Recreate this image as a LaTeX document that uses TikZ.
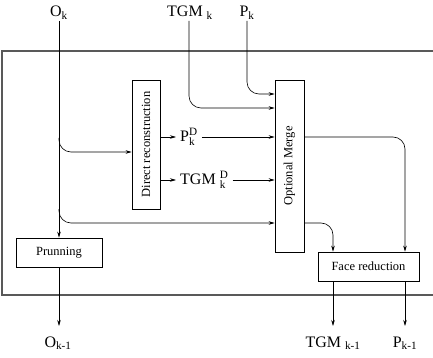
\documentclass[tikz,border=0pt]{standalone}
\usepackage{amsmath}
\usepackage{graphicx}
\usepackage{fontspec}
\setmainfont{Liberation Serif}
\usetikzlibrary{arrows.meta}

\begin{document}
\begin{tikzpicture}[x=1pt, y=-1pt,
    box/.style={draw, line width=0.7pt, inner sep=0pt, font=\fontsize{12.5}{14}\selectfont},
    flow/.style={-{Stealth[length=6pt, width=3.5pt]}, line width=0.6pt},
    roundflow/.style={flow, rounded corners=12pt},
    lab/.style={font=\fontsize{16}{18}\selectfont, inner sep=1pt, anchor=base},
    mid/.style={font=\fontsize{16}{18}\selectfont, inner sep=4pt, anchor=west}]
    \useasboundingbox (0,0) rectangle (433,358);

    % Frame, open on the right
    \draw [black!65, line width=1.2pt] (433,51) -- (2,51) -- (2,295) -- (433,295);

    % Blocks
    \node [box, minimum width=86pt, minimum height=29pt] (prun) at (59,252.5) {Prunning};
    \node [box, minimum width=28pt, minimum height=129pt] (dr) at (146,144.5) {\rotatebox{90}{Direct reconstruction}};
    \node [box, minimum width=29pt, minimum height=172pt] (om) at (289.5,166) {\rotatebox{90}{Optional Merge}};
    \node [box, minimum width=101pt, minimum height=29pt] (fr) at (368.5,266.5) {Face reduction};

    % Inputs
    \node [lab] (ok) at (59,17) {$\text{O}_{\text{k}}$};
    \node [lab] (tgmk) at (190,17) {$\text{TGM }_{\text{k}}$};
    \node [lab] (pk) at (247,17) {$\text{P}_{\text{k}}$};

    % Intermediate results
    \node [mid] (pkd) at (176,137) {$\text{P}_{\text{k}}^{\text{D}}$};
    \node [mid] (tgmd) at (176,180) {$\text{TGM }_{\text{k}}^{\text{D}}$};

    % Outputs
    \node [lab] (okm) at (58,347) {$\text{O}_{\text{k-1}}$};
    \node [lab] (tgmkm) at (333,347) {$\text{TGM }_{\text{k-1}}$};
    \node [lab] (pkm) at (405,347) {$\text{P}_{\text{k-1}}$};
    \coordinate (okout) at (59,326);
    \coordinate (tgmout) at (333,326);
    \coordinate (pout) at (405,326);

    % O_k path
    \draw [flow] (ok.south -| prun.north) -- (prun.north);
    \draw [roundflow] (prun.north |- 0,138) |- (dr.west |- 0,152);
    \draw [roundflow] (prun.north |- 0,209) |- (om.west |- 0,223);
    \draw [flow] (prun.south) -- (okout);

    % TGM_k and P_k into the merge
    \draw [roundflow] (tgmk.south -| 189,0) |- (om.west |- 0,108);
    \draw [roundflow] (pk.south) |- (om.west |- 0,94);

    % Direct reconstruction results
    \draw [flow] (dr.east |- pkd.west) -- (pkd.west);
    \draw [flow] (pkd.east) -- (om.west |- pkd.east);
    \draw [flow] (dr.east |- tgmd.west) -- (tgmd.west);
    \draw [flow] (tgmd.east) -- (om.west |- tgmd.east);

    % Merge to face reduction
    \draw [roundflow] (om.east |- 0,137) -| (fr.north -| pout);
    \draw [roundflow] (om.east |- 0,223) -| (fr.north -| tgmout);

    % Face reduction outputs
    \draw [flow] (fr.south -| tgmout) -- (tgmout);
    \draw [flow] (fr.south -| pout) -- (pout);
\end{tikzpicture}
\end{document}
